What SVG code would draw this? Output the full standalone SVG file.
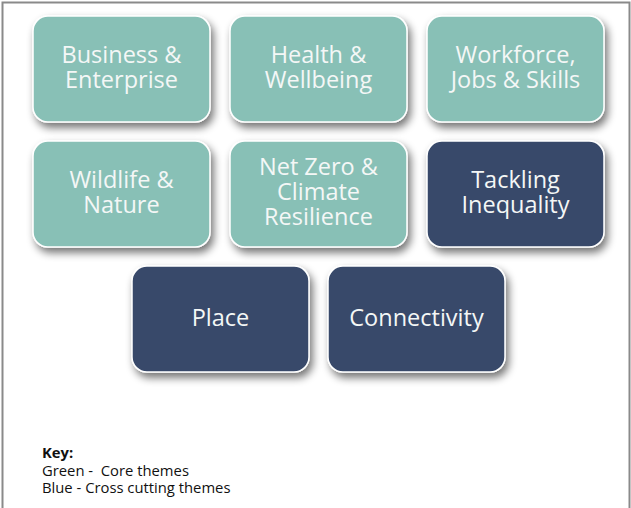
<svg xmlns="http://www.w3.org/2000/svg" width="631" height="508" viewBox="0 0 631 508">
<defs>
<filter id="sh" x="-20%" y="-20%" width="150%" height="160%">
<feGaussianBlur in="SourceAlpha" stdDeviation="4"/>
<feOffset dx="3" dy="5" result="b"/>
<feComponentTransfer><feFuncA type="linear" slope="0.55"/></feComponentTransfer>
<feMerge><feMergeNode/><feMergeNode in="SourceGraphic"/></feMerge>
</filter>
</defs>
<style>
.g{fill:#88C0B6;stroke:#ffffff;stroke-width:1.5}
.b{fill:#374A6A;stroke:#ffffff;stroke-width:1.5}
.t{font-family:"Open Sans","Noto Sans",sans-serif;font-size:23.5px;fill:#F4F7F6;text-anchor:middle}
.k{font-family:"Open Sans","Noto Sans",sans-serif;font-size:14.8px;fill:#111111}
</style>
<rect x="0" y="0" width="631" height="508" fill="#ffffff"/>
<rect x="2.5" y="2.5" width="627" height="520" fill="none" stroke="#8a8a8a" stroke-width="2"/>
<g id="business">
<rect class="g" x="33" y="16" width="177" height="106" rx="15" filter="url(#sh)"/>
<text class="t" x="121.5" y="63">Business &amp;</text>
<text class="t" x="121.5" y="88">Enterprise</text>
</g>
<g id="health">
<rect class="g" x="230" y="16" width="177" height="106" rx="15" filter="url(#sh)"/>
<text class="t" x="318.5" y="63">Health &amp;</text>
<text class="t" x="318.5" y="88">Wellbeing</text>
</g>
<g id="workforce">
<rect class="g" x="427" y="16" width="177" height="106" rx="15" filter="url(#sh)"/>
<text class="t" x="515.5" y="63">Workforce,</text>
<text class="t" x="515.5" y="88">Jobs &amp; Skills</text>
</g>
<g id="wildlife">
<rect class="g" x="33" y="141" width="177" height="106" rx="15" filter="url(#sh)"/>
<text class="t" x="121.5" y="188">Wildlife &amp;</text>
<text class="t" x="121.5" y="213">Nature</text>
</g>
<g id="netzero">
<rect class="g" x="230" y="141" width="177" height="106" rx="15" filter="url(#sh)"/>
<text class="t" x="318.5" y="175">Net Zero &amp;</text>
<text class="t" x="318.5" y="200">Climate</text>
<text class="t" x="318.5" y="225">Resilience</text>
</g>
<g id="tackling">
<rect class="b" x="427" y="141" width="177" height="106" rx="15" filter="url(#sh)"/>
<text class="t" x="515.5" y="188">Tackling</text>
<text class="t" x="515.5" y="213">Inequality</text>
</g>
<g id="place">
<rect class="b" x="132" y="266" width="177" height="106" rx="15" filter="url(#sh)"/>
<text class="t" x="220.5" y="326">Place</text>
</g>
<g id="connectivity">
<rect class="b" x="328" y="266" width="177" height="106" rx="15" filter="url(#sh)"/>
<text class="t" x="416.5" y="326">Connectivity</text>
</g>
<g id="connectors"></g>
<g id="key">
<text class="k" x="42" y="458" font-weight="bold">Key:</text>
<text class="k" x="42" y="475.5" xml:space="preserve">Green -  Core themes</text>
<text class="k" x="42" y="493">Blue - Cross cutting themes</text>
</g>
</svg>
